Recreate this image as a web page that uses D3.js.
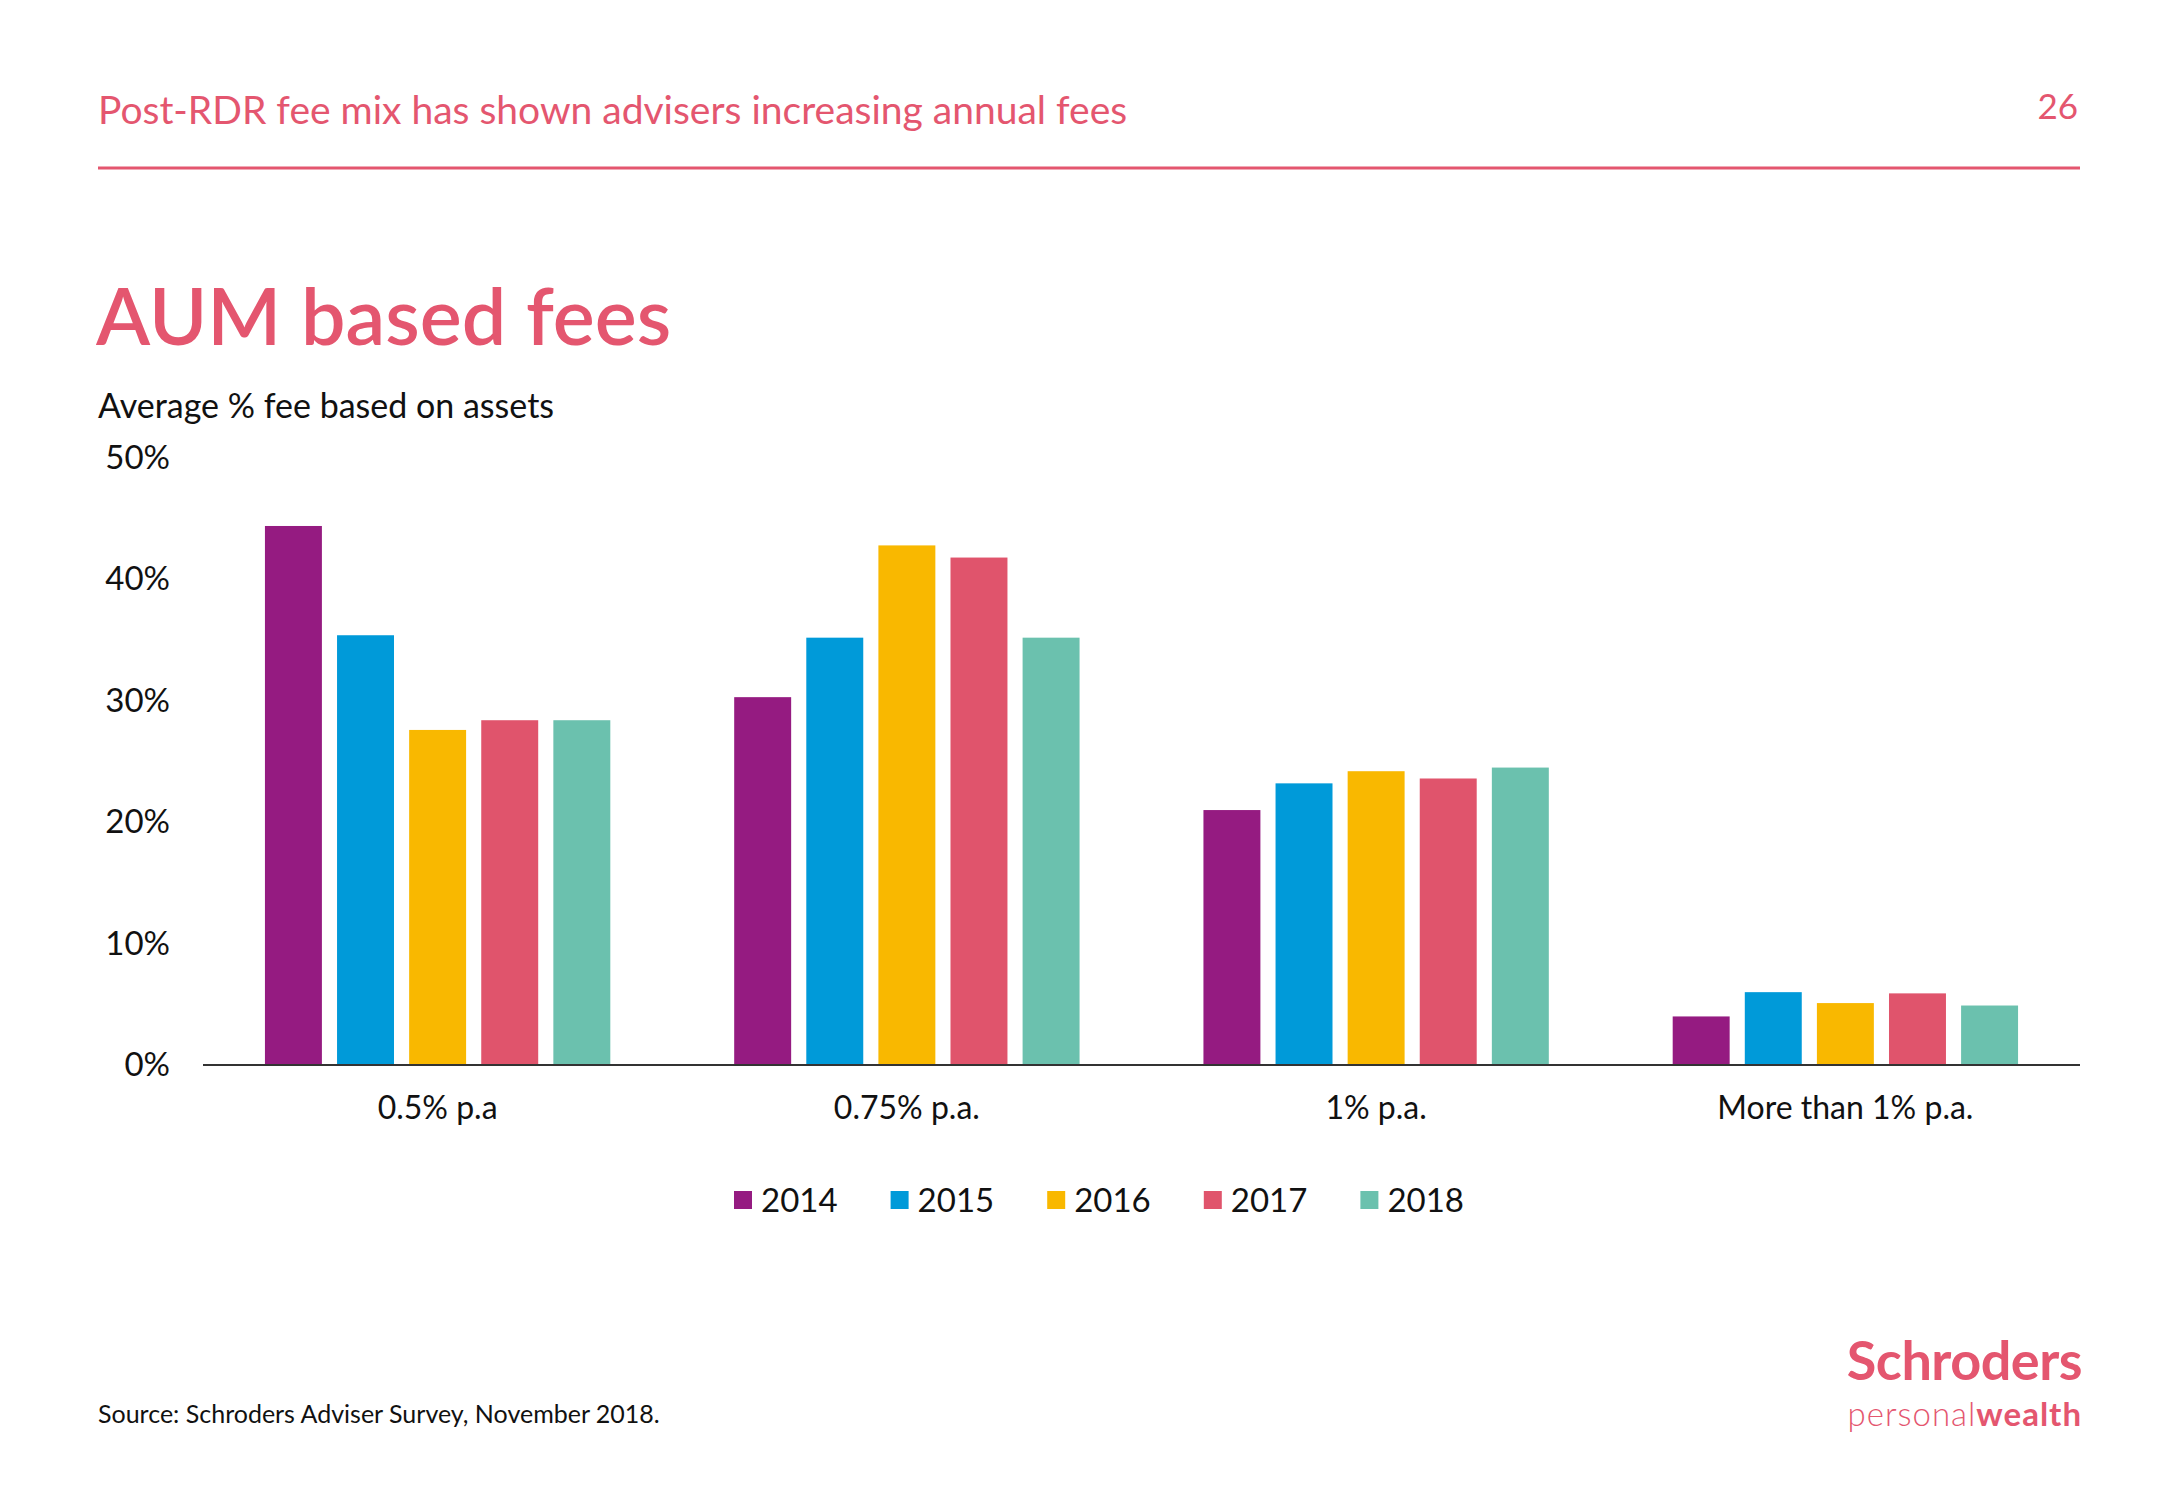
<!DOCTYPE html>
<html>
<head>
<meta charset="utf-8">
<script src="https://cdn.jsdelivr.net/npm/d3@7"></script>
<style>
  html, body { margin: 0; padding: 0; background: #fff; }
  svg { display: block; font-family: "Lato", "Open Sans", sans-serif; }
</style>
</head>
<body>
<svg id="chart" width="2167" height="1500"></svg>
<script>
// ---- Data ----
const categories = ["0.5% p.a", "0.75% p.a.", "1% p.a.", "More than 1% p.a."];
const years = ["2014", "2015", "2016", "2017", "2018"];
const values2014 = [44.4, 30.3, 21.0, 4.0];
const values2015 = [35.4, 35.2, 23.2, 6.0];
const values2016 = [27.6, 42.8, 24.2, 5.1];
const values2017 = [28.4, 41.8, 23.6, 5.9];
const values2018 = [28.4, 35.2, 24.5, 4.9];
const yTicks = [0, 10, 20, 30, 40, 50];
const seriesColors = ["#951B81", "#009AD9", "#F9B800", "#E0546C", "#6BC1AE"];

const series = [values2014, values2015, values2016, values2017, values2018];
const table = categories.map((c, i) => ({
  category: c,
  bars: years.map((y, j) => ({ year: y, value: series[j][i] }))
}));

// ---- Layout ----
const svg = d3.select("#chart");
const pink = "#E4566F";
const left = 203, right = 2080, baseY = 1065, topY = 458;

// Header
svg.append("text").attr("x", 98).attr("y", 124)
  .attr("fill", pink).attr("font-size", 39)
  .text("Post-RDR fee mix has shown advisers increasing annual fees");
svg.append("text").attr("x", 2078).attr("y", 119).attr("text-anchor", "end")
  .attr("fill", pink).attr("font-size", 35).text("26");
svg.append("line").attr("x1", 98).attr("x2", 2080).attr("y1", 168).attr("y2", 168)
  .attr("stroke", pink).attr("stroke-width", 3);

// Title
svg.append("text").attr("x", 96).attr("y", 345)
  .attr("fill", pink).attr("font-size", 79).attr("font-weight", 600)
  .text("AUM based fees");
svg.append("text").attr("x", 98).attr("y", 418)
  .attr("fill", "#111").attr("font-size", 34)
  .text("Average % fee based on assets");

// Scales
const x0 = d3.scaleBand().domain(categories).range([left, right])
  .paddingInner(0.264).paddingOuter(0.132);
const x1 = d3.scaleBand().domain(years).range([0, x0.bandwidth()]).paddingInner(0.21);
const y = d3.scaleLinear().domain([0, 50]).range([baseY, topY]);
const color = d3.scaleOrdinal().domain(years).range(seriesColors);

// Y axis
const yAxis = svg.append("g").attr("transform", `translate(170,0)`)
  .call(d3.axisLeft(y).tickValues(yTicks).tickSize(0).tickPadding(0).tickFormat(d => d + "%"));
yAxis.select(".domain").remove();
yAxis.selectAll("text").attr("font-size", 33).attr("fill", "#111")
  .attr("font-family", "Lato, 'Open Sans', sans-serif");

// Bars
const groups = svg.append("g").selectAll("g").data(table).join("g")
  .attr("transform", d => `translate(${x0(d.category)},0)`);
groups.selectAll("rect").data(d => d.bars).join("rect")
  .attr("x", d => x1(d.year))
  .attr("y", d => y(d.value))
  .attr("width", x1.bandwidth())
  .attr("height", d => y(0) - y(d.value))
  .attr("fill", d => color(d.year));

// Baseline
svg.append("line").attr("x1", left).attr("x2", right).attr("y1", baseY).attr("y2", baseY)
  .attr("stroke", "#333").attr("stroke-width", 2);

// X axis labels
const xAxis = svg.append("g").attr("transform", `translate(0,${baseY})`)
  .call(d3.axisBottom(x0).tickSize(0).tickPadding(31));
xAxis.select(".domain").remove();
xAxis.selectAll("text").attr("font-size", 32).attr("fill", "#111")
  .attr("font-family", "Lato, 'Open Sans', sans-serif");

// Legend
const legend = svg.append("g").selectAll("g").data(years).join("g")
  .attr("transform", (d, i) => `translate(${734 + i * 156.6},1191)`);
legend.append("rect").attr("x", 0).attr("y", 0).attr("width", 18).attr("height", 18)
  .attr("fill", d => color(d));
legend.append("text").attr("x", 27).attr("y", 21).attr("font-size", 33)
  .attr("fill", "#111").text(d => d);

// Source
svg.append("text").attr("x", 98).attr("y", 1423).attr("font-size", 25)
  .attr("fill", "#111").text("Source: Schroders Adviser Survey, November 2018.");

// Logo
svg.append("text").attr("x", 2082).attr("y", 1380).attr("text-anchor", "end")
  .attr("fill", pink).attr("font-size", 54).attr("font-weight", 700)
  .attr("letter-spacing", -0.5).text("Schroders");
const pw = svg.append("text").attr("x", 2082).attr("y", 1426).attr("text-anchor", "end")
  .attr("fill", pink).attr("font-size", 33).attr("letter-spacing", 1);
pw.append("tspan").attr("font-weight", 300).text("personal");
pw.append("tspan").attr("font-weight", 700).text("wealth");
</script>
</body>
</html>
